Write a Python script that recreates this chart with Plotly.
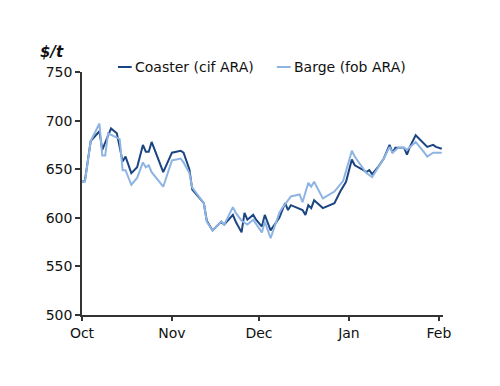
import plotly.graph_objects as go

coaster_dates = ["2009-10-01","2009-10-02","2009-10-04","2009-10-07","2009-10-08","2009-10-11","2009-10-13",
    "2009-10-15","2009-10-16","2009-10-18","2009-10-20","2009-10-22","2009-10-23","2009-10-24","2009-10-25",
    "2009-10-29","2009-11-01","2009-11-04","2009-11-05","2009-11-07","2009-11-08","2009-11-12","2009-11-13",
    "2009-11-15","2009-11-17","2009-11-18","2009-11-19","2009-11-22","2009-11-23","2009-11-25","2009-11-26",
    "2009-11-27","2009-11-29","2009-11-30","2009-12-02","2009-12-03","2009-12-05","2009-12-08","2009-12-10",
    "2009-12-11","2009-12-12","2009-12-16","2009-12-17","2009-12-18","2009-12-19","2009-12-20","2009-12-23",
    "2009-12-27","2009-12-29","2009-12-31","2010-01-02","2010-01-03","2010-01-06","2010-01-07","2010-01-08",
    "2010-01-09","2010-01-11","2010-01-13","2010-01-15","2010-01-16","2010-01-17","2010-01-20","2010-01-21",
    "2010-01-22","2010-01-24","2010-01-26","2010-01-28","2010-01-30","2010-01-31","2010-02-02"]
coaster_vals = [637,638,679,689,670,692,687,658,663,646,652,675,668,668,678,
    647,667,669,667,650,629,615,597,587,593,596,593,603,596,585,605,
    598,603,598,591,603,587,600,615,608,613,608,603,613,610,618,610,
    615,627,637,660,654,649,647,649,645,652,661,675,667,672,672,665,
    673,685,679,673,675,673,671]

barge_dates = ["2009-10-01","2009-10-02","2009-10-04","2009-10-07","2009-10-08","2009-10-09","2009-10-10",
    "2009-10-14","2009-10-15","2009-10-16","2009-10-18","2009-10-20","2009-10-22","2009-10-23","2009-10-24",
    "2009-10-25","2009-10-29","2009-11-01","2009-11-04","2009-11-05","2009-11-07","2009-11-08","2009-11-12",
    "2009-11-13","2009-11-15","2009-11-17","2009-11-18","2009-11-19","2009-11-22","2009-11-23","2009-11-25",
    "2009-11-27","2009-11-29","2009-12-02","2009-12-03","2009-12-05","2009-12-08","2009-12-09","2009-12-12",
    "2009-12-15","2009-12-16","2009-12-18","2009-12-19","2009-12-20","2009-12-23","2009-12-27","2009-12-30",
    "2009-12-31","2010-01-02","2010-01-03","2010-01-06","2010-01-07","2010-01-09","2010-01-11","2010-01-13",
    "2010-01-15","2010-01-16","2010-01-18","2010-01-20","2010-01-21","2010-01-23","2010-01-24","2010-01-27",
    "2010-01-28","2010-01-30","2010-02-02"]
barge_vals = [637,637,679,697,664,664,687,681,649,649,634,641,657,652,654,
    647,632,659,661,657,646,631,615,596,587,593,596,593,611,605,597,
    593,598,585,596,579,605,610,622,624,616,636,632,637,620,627,638,
    648,669,663,651,646,642,652,661,673,667,672,672,670,675,678,667,
    663,667,667]

tick_vals = ["2009-10-01","2009-11-01","2009-12-01","2010-01-01","2010-02-01"]
tick_text = ["Oct","Nov","Dec","Jan","Feb"]

series_names = ["Coaster (cif ARA)", "Barge (fob ARA)"]
series_colors = ["#1B4581", "#8EB4E3"]

FONT = "DejaVu Sans"
fig = go.Figure()
fig.add_trace(go.Scatter(x=coaster_dates, y=coaster_vals, mode="lines", name=series_names[0],
                         line=dict(color=series_colors[0], width=2), showlegend=False))
fig.add_trace(go.Scatter(x=barge_dates, y=barge_vals, mode="lines", name=series_names[1],
                         line=dict(color=series_colors[1], width=2), showlegend=False))

# custom compact legend (short line keys)
legend_x = [0.0997, 0.540]
legend_y = 1.0206
shapes = []
annotations = []
for name, color, lx in zip(series_names, series_colors, legend_x):
    shapes.append(dict(type="line", xref="paper", yref="paper", x0=lx, x1=lx + 0.038,
                       y0=legend_y, y1=legend_y, line=dict(color=color, width=2)))
    annotations.append(dict(text=name, xref="paper", yref="paper", x=lx + 0.041, y=legend_y,
                            xanchor="left", yanchor="middle", showarrow=False,
                            font=dict(size=14, family=FONT, color="#111")))
annotations.append(dict(text="<b><i>$/t</i></b>", xref="paper", yref="paper", x=-0.082, y=1.082,
                        xanchor="center", yanchor="middle", showarrow=False,
                        font=dict(size=15, family=FONT, color="#111")))

fig.update_layout(
    width=500, height=386,
    margin=dict(l=74, r=65, t=64, b=79, autoexpand=False),
    paper_bgcolor="white", plot_bgcolor="white",
    font=dict(family=FONT, size=14, color="#111"),
    showlegend=False,
    xaxis=dict(type="date", range=["2009-10-01", "2010-02-02 10:00"], tickvals=tick_vals, ticktext=tick_text,
               showgrid=False, zeroline=False, showline=True, linecolor="#333", linewidth=1.5,
               ticks="outside", ticklen=4, tickcolor="#333", tickwidth=1.5, automargin=False),
    yaxis=dict(range=[500, 750], dtick=50, showgrid=False, zeroline=False, showline=True,
               linecolor="#333", linewidth=1.5, ticks="outside", ticklen=5, tickcolor="#333", tickwidth=1.5,
               automargin=False),
    shapes=shapes,
    annotations=annotations,
)
fig.write_html("out.html")
